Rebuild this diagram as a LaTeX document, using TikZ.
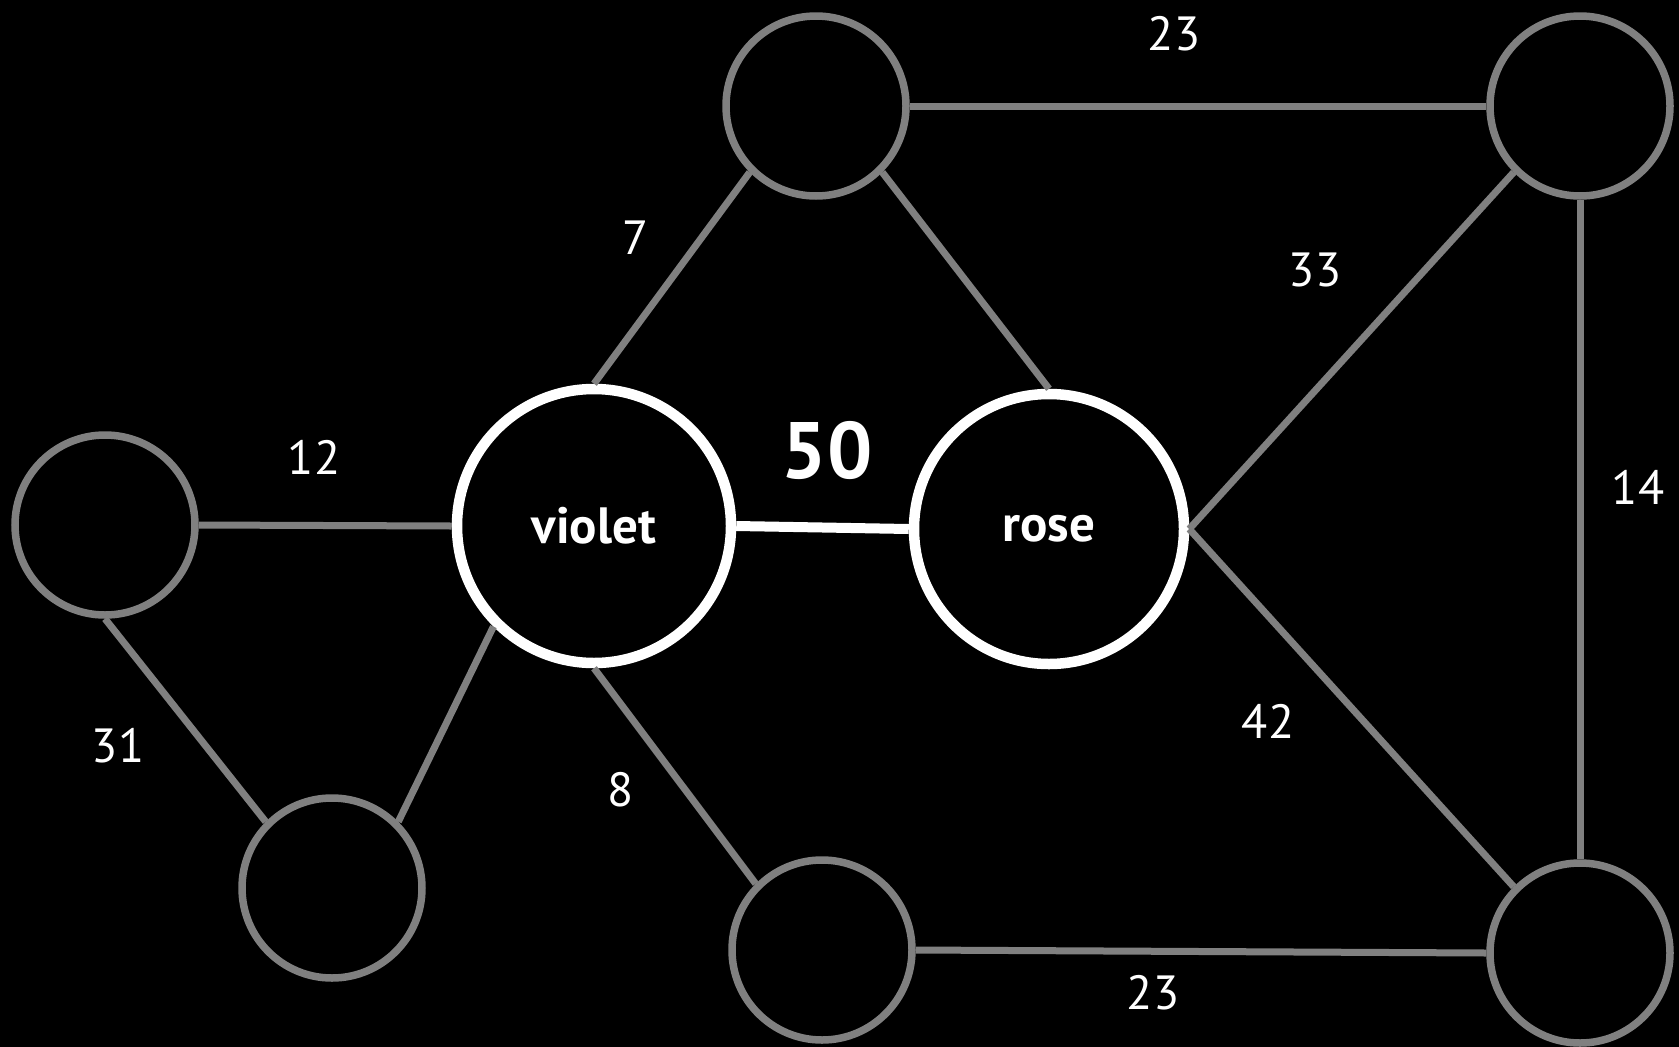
\documentclass[tikz,border=0pt]{standalone}
\usepackage{fontspec}
\setmainfont{PT Sans}
\definecolor{edgegray}{HTML}{808080}
\tikzset{
  plain/.style={circle,draw=edgegray,line width=7.5pt,minimum size=180pt,inner sep=0pt,fill=black},
  hot/.style={circle,draw=white,line width=10.5pt,inner sep=0pt,fill=black,text=white,font=\fontsize{51}{55}\selectfont\bfseries},
  link/.style={draw=edgegray,line width=7pt},
  hotlink/.style={draw=white,line width=10pt},
  wlabel/.style={text=white,font=\fontsize{48}{52}\selectfont,inner sep=0pt},
  biglabel/.style={text=white,font=\fontsize{80}{84}\selectfont\bfseries,inner sep=0pt}
}
\begin{document}
\begin{tikzpicture}[x=1pt,y=-1pt]
\fill[black] (0,0) rectangle (1679,1047);
\useasboundingbox (0,0) rectangle (1679,1047);
\node[plain] (L)  at (105,525) {};
\node[hot,minimum size=274pt] (V) at (594,526) {violet};
\node[hot,minimum size=270pt] (R) at (1049,529) {rose};
\node[plain] (TM) at (816,106) {};
\node[plain] (TR) at (1580,106) {};
\node[plain] (BL) at (332,888) {};
\node[plain] (BM) at (822,950) {};
\node[plain] (BR) at (1580,953) {};
\draw[link] (L.east) -- (V.west);
\draw[link] (L.south) -- (BL.north west);
\draw[link] (BL.north east) -- (V.south west);
\draw[link] (V.north) -- (TM.south west);
\draw[link] (V.south) -- (BM.north west);
\draw[hotlink] (V.east) -- (R.west);
\draw[link] (TM.south east) -- (R.north);
\draw[link] (TM.east) -- (TR.west);
\draw[link] (R.east) -- (TR.south west);
\draw[link] (R.east) -- (BR.north west);
\draw[link] (TR.south) -- (BR.north);
\draw[link] (BM.east) -- (BR.west);
\node[wlabel] (l12) at (314,457) {12};
\node[wlabel] (l31) at (118,746) {31};
\node[wlabel] (l7)  at (636,238) {7};
\node[wlabel] (l8)  at (621,790) {8};
\node[biglabel] (l50) at (827,450) {50};
\node[wlabel] (l23a) at (1174,34) {23};
\node[wlabel] (l33) at (1315,270) {33};
\node[wlabel] (l42) at (1268,721) {42};
\node[wlabel] (l14) at (1638,487) {14};
\node[wlabel] (l23b) at (1153,993) {23};
\end{tikzpicture}
\end{document}
